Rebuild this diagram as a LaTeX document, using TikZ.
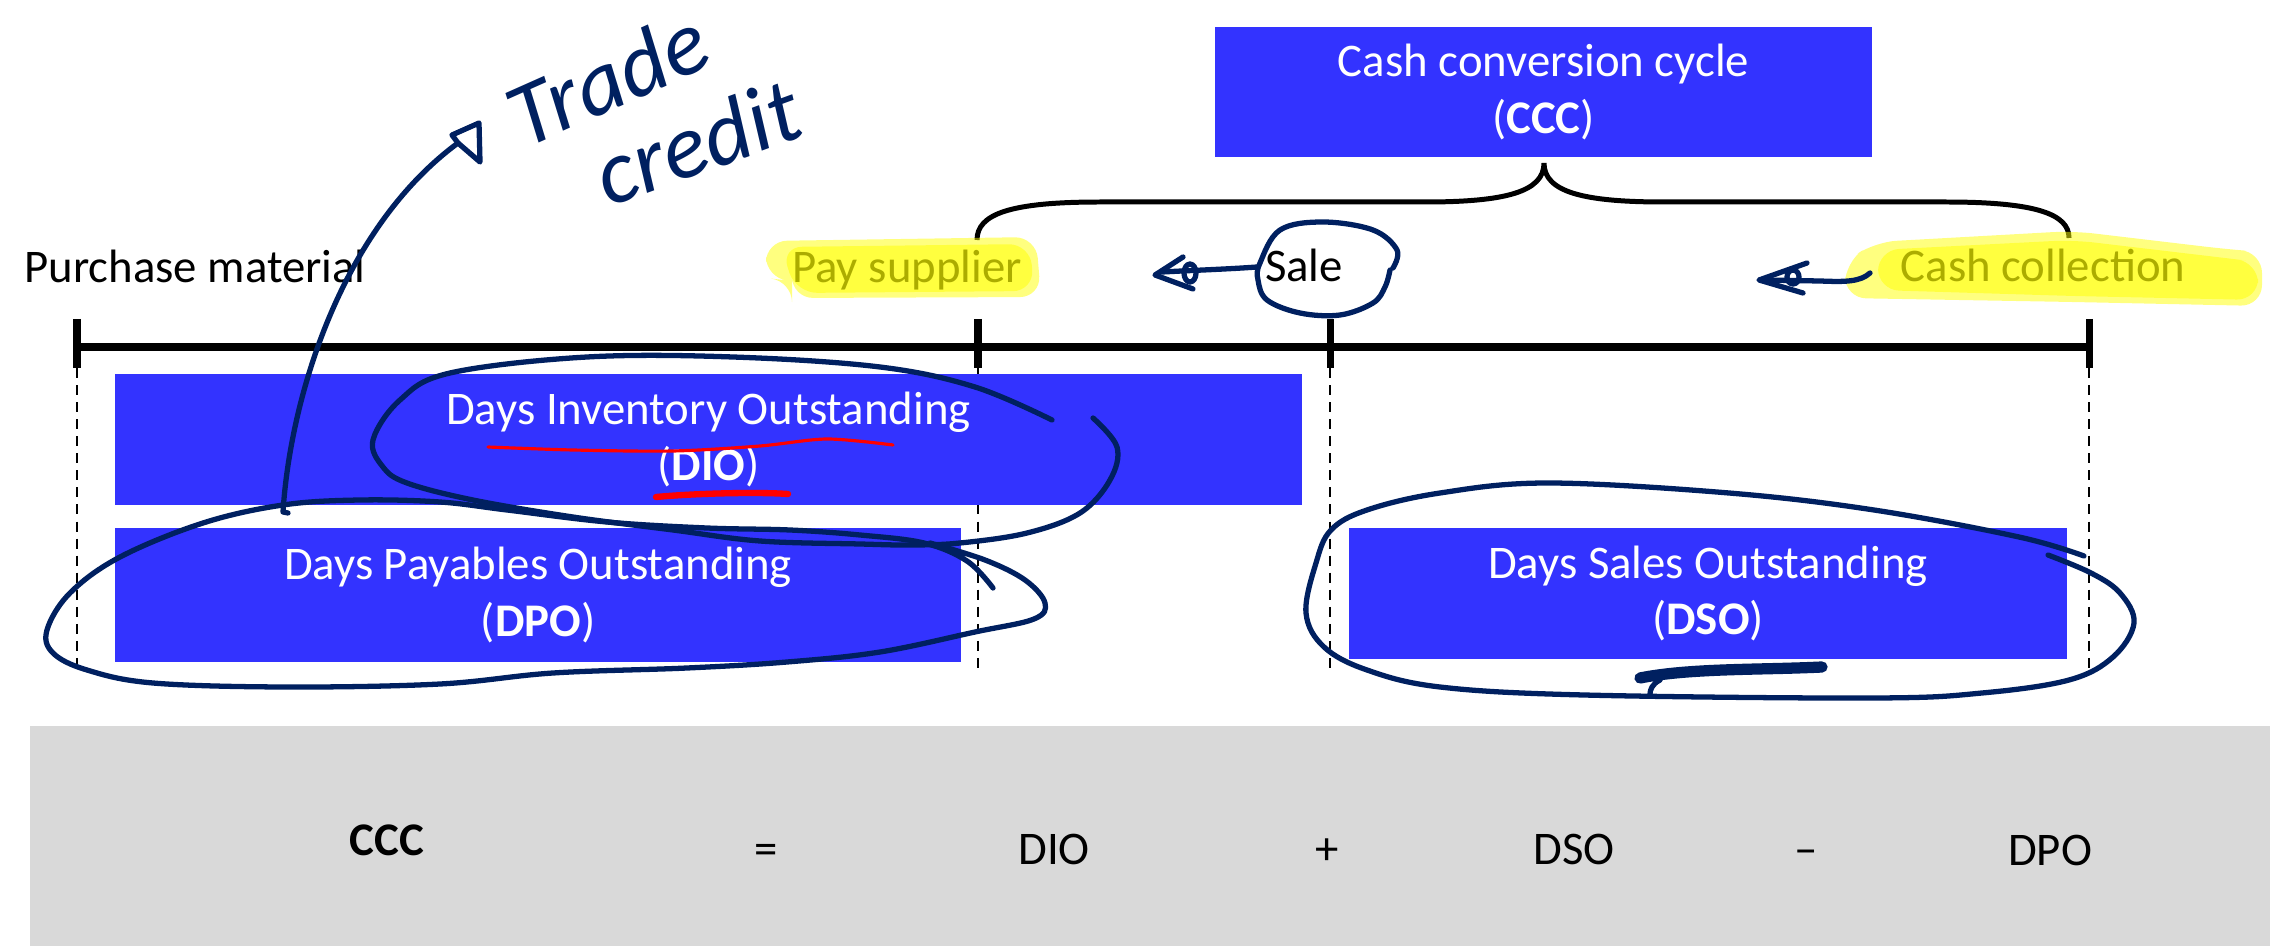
\documentclass[tikz,border=0pt]{standalone}
\usepackage{fontspec}
\setmainfont{Carlito}
\definecolor{boxblue}{RGB}{51,51,255}
\definecolor{eqgray}{RGB}{217,217,217}
\definecolor{penink}{RGB}{0,32,96}
\definecolor{hlyellow}{RGB}{255,255,0}
\definecolor{hltext}{RGB}{172,172,0}
\tikzset{
	metricbox/.style={fill=boxblue,text=white,align=center,inner sep=0pt},
	eqterm/.style={anchor=base},
	timelabel/.style={anchor=base},
	hilite/.style={fill=hlyellow,opacity=0.5,rounded corners=6pt},
	tickmark/.style={line width=2pt},
	guide/.style={line width=0.7pt,dash pattern=on 2.85pt off 2pt},
	inkline/.style={draw=penink,line width=1.5pt,line cap=round,line join=round},
	inktext/.style={text=penink,inner sep=0pt,font=\fontsize{26pt}{26pt}\selectfont\itshape},
	redline/.style={draw=red,line width=0.9pt,line cap=round}
}
\begin{document}
\begin{tikzpicture}[x=0.01cm,y=-0.01cm,font=\fontsize{13.3pt}{16.2pt}\selectfont]
		\useasboundingbox (0,0) rectangle (2285,946);
		\coordinate (T0) at (77,347);
		\coordinate (T1) at (978,347);
		\coordinate (T2) at (1330,347);
		\coordinate (T3) at (2089,347);
		\coordinate (B0) at (977,240);
		\coordinate (Btip) at (1544,163);
		\coordinate (B1) at (2069,238);
		% formula band
		\node [fill=eqgray,minimum width=22.38cm,minimum height=2.2cm,inner sep=0pt] (eqband) at (1150,836) {};
		\node [eqterm] (lhs) at (387,855) {\textbf{CCC}};
		\node [eqterm] (equals) at (766,864) {=};
		\node [eqterm] (tdio) at (1054,864) {DIO};
		\node [eqterm] (plus) at (1327,864) {+};
		\node [eqterm] (tdso) at (1574,864) {DSO};
		\node [eqterm] (minus) at (1806,864) {–};
		\node [eqterm] (tdpo) at (2050,865) {DPO};
		% timeline
		\foreach \t in {T0,T1,T2,T3}
			\draw [guide] ([yshift=-0.21cm]\t) to ([yshift=-3.25cm]\t);
		\draw [line width=2.28pt] (T0) to (T3);
		\foreach \t in {T0,T1,T2,T3}
			\draw [tickmark] ([yshift=0.28cm]\t) to ([yshift=-0.21cm]\t);
		\node [metricbox,minimum width=6.57cm,minimum height=1.30cm] (ccc) at (1543.5,92) {Cash conversion cycle\\(\textbf{CCC})};
		\node [metricbox,minimum width=11.87cm,minimum height=1.31cm] (dio) at (708.5,439.5) {Days Inventory Outstanding\\(\textbf{DIO})};
		\node [metricbox,minimum width=8.46cm,minimum height=1.34cm] (dpo) at (538,595) {Days Payables Outstanding\\(\textbf{DPO})};
		\node [metricbox,minimum width=7.18cm,minimum height=1.31cm] (dso) at (1708,593.5) {Days Sales Outstanding\\(\textbf{DSO})};
		\draw [line width=1.42pt] (B0) .. controls (977,214) and (1010,202) .. (1100,202) -- (1425,202) .. controls (1505,202) and (1544,192) .. (Btip) .. controls (1544,192) and (1583,202) .. (1664,202) -- (1946,202) .. controls (2036,202) and (2069,214) .. (B1);
		\fill [hilite] (766,241) -- (1036,237) -- (1041,297) -- (792,298) -- (792,281) -- (766,278) -- cycle;
		\fill [hilite] (781,247) -- (1030,244) -- (1034,291) -- (796,293) -- cycle;
		\fill [hilite] (1845,262) -- (1875,242) -- (2073,231) -- (2225,249) -- (2262,252) -- (2262,306) -- (2073,302) -- (1845,298) -- cycle;
		\fill [hilite] (1878,250) -- (2073,240) -- (2225,258) -- (2258,262) -- (2258,300) -- (2073,296) -- (1878,290) -- cycle;
		\node [timelabel,anchor=base west] (buy) at (12,283) {Purchase material};
		\node [timelabel,text=hltext] (pay) at (907,283) {Pay supplier};
		\node [timelabel] (sale) at (1304,282) {Sale};
		\node [timelabel,text=hltext] (collect) at (2043,282) {Cash collection};
		% pen marks
		\draw [redline] plot [smooth] coordinates {(488,447) (573,450) (673,451) (760,446) (827,439) (893,445)};
		\draw [redline,line width=1.8pt] (656,497) .. controls (700,493) and (760,492) .. (788,494);
		\draw [inkline] plot [smooth,tension=0.6] coordinates {(1052,420) (975,387) (880,367) (733,357) (587,357) (450,373) (400,400) (373,440) (383,467) (407,483) (473,500) (573,517) (673,530) (760,541) (860,544) (910,545) (960,543) (1027,533) (1080,513) (1110,480) (1117,447) (1093,418)};
		\draw [inkline] plot [smooth,tension=0.6] coordinates {(993,588) (967,561) (924,543) (860,535) (790,530) (707,528) (607,522) (507,510) (440,502) (360,500) (283,505) (203,523) (120,557) (70,593) (47,630) (53,653) (87,670) (153,683) (287,687) (440,684) (553,673) (687,668) (787,662) (880,652) (975,632) (1034,619) (1045,603) (1025,580) (985,560) (930,543)};
		\draw [inkline] plot [smooth,tension=0.6] coordinates {(2084,556) (2019,537) (1874,510) (1729,493) (1548,483) (1440,493) (1367,510) (1331,530) (1316,563) (1306,613) (1324,647) (1367,670) (1440,687) (1584,695) (1874,698) (1982,693) (2069,680) (2113,657) (2134,623) (2120,593) (2091,573) (2048,555)};
		\draw [inkline,line width=3.2pt] (1640,678) .. controls (1690,668) and (1760,670) .. (1822,667);
		\draw [inkline] (1660,680) .. controls (1652,684) and (1650,690) .. (1650,694);
		\draw [inkline] plot [smooth,tension=0.6] coordinates {(1393,268) (1397,250) (1373,230) (1323,222) (1280,230) (1260,263) (1258,280) (1267,300) (1300,313) (1340,315) (1373,303) (1385,287) (1390,270)};
		\draw [inkline] (1257,267) .. controls (1230,269) and (1200,270) .. (1162,272);
		\draw [inkline] (1183,257) -- (1155,275) -- (1193,289);
		\draw [inkline] (1190,273) ellipse (6 and 9);
		\draw [inkline] (1870,273) .. controls (1860,282) and (1845,282) .. (1820,281) -- (1762,280);
		\draw [inkline] (1807,263) -- (1759,280) -- (1803,293);
		\draw [inkline] (1793,277) ellipse (6 and 7);
		\draw [inkline] (288,513) -- (283,512) .. controls (290,400) and (340,230) .. (458,143);
		\draw [inkline] (458,143) -- (452,135) -- (479,123) -- (480,162) -- cycle;
		\node [inktext,rotate=24] (trade) at (607,78) {Trade};
		\node [inktext,rotate=20] (credit) at (697,142) {credit};
	\end{tikzpicture}
\end{document}
